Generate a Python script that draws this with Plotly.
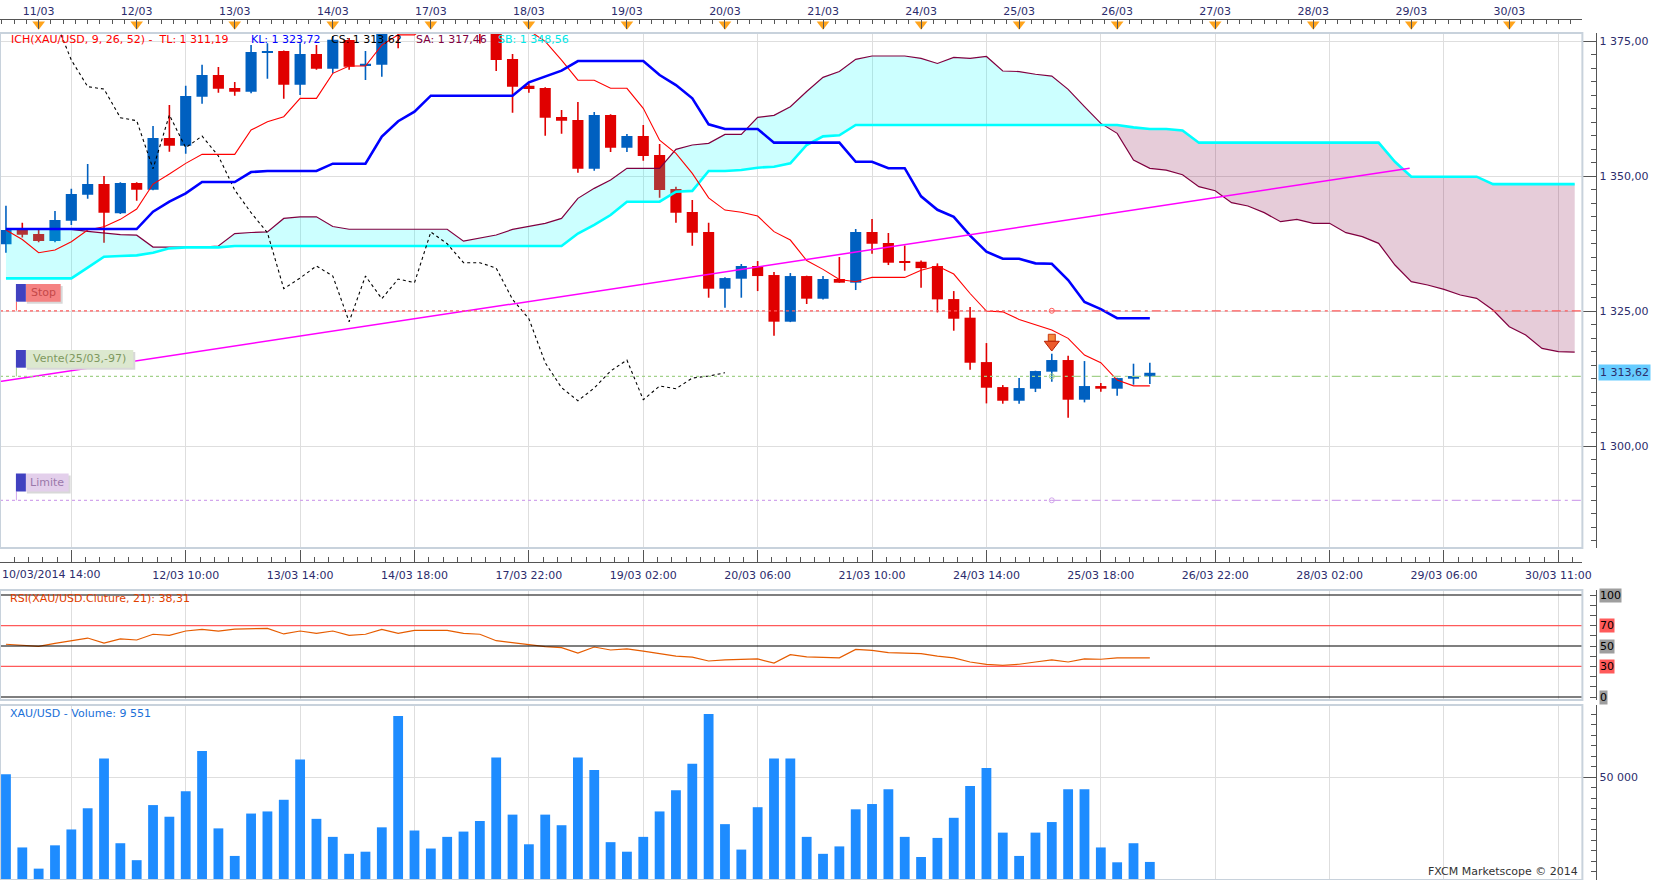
import plotly.graph_objects as go

W, H = 1663, 880

# ---- data (4h bars, XAU/USD) ----
opens = [1337.40, 1340.18, 1339.31, 1338.02, 1341.78, 1346.60, 1348.57, 1343.14, 1348.76, 1347.52,
         1357.09, 1355.67, 1364.74, 1368.76, 1366.35, 1365.67, 1372.89, 1373.20, 1366.97, 1372.65,
         1369.93, 1375.24, 1370.42, 1370.67, 1378.50, 1377.20, 1385.00, 1389.00, 1385.50, 1381.00,
         1379.00, 1371.72, 1366.78, 1366.35, 1360.98, 1360.42, 1351.41, 1361.35, 1355.30, 1357.46,
         1353.94, 1347.64, 1343.39, 1339.68, 1329.19, 1331.04, 1333.39, 1331.72, 1323.08, 1331.53,
         1327.33, 1330.98, 1330.30, 1339.68, 1337.64, 1334.18, 1334.18, 1333.38, 1327.27, 1323.82,
         1315.60, 1310.97, 1308.44, 1310.67, 1313.82, 1315.98, 1308.63, 1311.16, 1310.67, 1312.52,
         1312.95]
highs = [1344.56, 1341.41, 1340.05, 1343.57, 1347.71, 1352.27, 1350.05, 1348.90, 1348.90, 1359.31,
         1363.20, 1366.78, 1370.67, 1370.24, 1367.46, 1374.31, 1374.62, 1373.30, 1374.62, 1374.31,
         1376.00, 1375.60, 1373.20, 1377.50, 1381.00, 1386.00, 1391.70, 1391.00, 1387.00, 1382.50,
         1380.00, 1372.65, 1367.21, 1366.50, 1362.27, 1363.76, 1361.90, 1361.50, 1357.83, 1359.50,
         1355.98, 1348.08, 1345.61, 1341.41, 1331.30, 1333.76, 1334.31, 1332.27, 1332.09, 1331.60,
         1331.53, 1335.05, 1340.24, 1342.09, 1339.50, 1337.21, 1334.43, 1333.88, 1328.75, 1325.79,
         1319.12, 1311.34, 1312.64, 1314.00, 1317.15, 1316.78, 1315.79, 1311.72, 1312.70, 1315.30,
         1315.48]
lows = [1335.86, 1338.69, 1337.77, 1337.77, 1340.98, 1345.85, 1337.71, 1343.02, 1345.48, 1347.40,
        1354.56, 1354.19, 1363.45, 1365.48, 1364.93, 1365.36, 1368.08, 1364.37, 1365.05, 1369.74,
        1369.07, 1369.74, 1367.83, 1368.45, 1373.70, 1376.90, 1383.00, 1384.00, 1379.00, 1374.60,
        1369.50, 1361.78, 1365.48, 1357.52, 1357.89, 1350.67, 1351.04, 1354.50, 1354.50, 1352.89,
        1346.04, 1341.41, 1337.15, 1327.52, 1325.67, 1327.52, 1328.75, 1320.48, 1323.00, 1326.35,
        1327.20, 1330.30, 1328.94, 1335.67, 1333.57, 1332.52, 1329.37, 1324.80, 1321.41, 1314.18,
        1307.95, 1307.89, 1307.89, 1310.05, 1311.96, 1305.30, 1308.14, 1310.11, 1309.37, 1311.41,
        1311.53]
closes = [1340.05, 1339.19, 1338.02, 1341.90, 1346.72, 1348.57, 1343.26, 1348.76, 1347.52, 1357.09,
          1355.67, 1364.87, 1368.76, 1366.23, 1365.67, 1373.02, 1373.20, 1366.97, 1372.65, 1369.93,
          1375.30, 1370.30, 1370.85, 1376.80, 1377.20, 1384.00, 1389.00, 1385.50, 1381.00, 1379.00,
          1371.53, 1366.60, 1366.16, 1360.86, 1360.30, 1351.41, 1361.35, 1355.30, 1357.46, 1353.76,
          1347.46, 1343.26, 1339.56, 1329.19, 1331.16, 1333.39, 1331.53, 1323.08, 1331.53, 1327.34,
          1330.98, 1330.30, 1339.68, 1337.52, 1334.00, 1334.00, 1333.00, 1327.21, 1323.63, 1315.48,
          1310.85, 1308.44, 1310.79, 1313.94, 1315.98, 1308.63, 1311.16, 1310.67, 1312.64, 1313.01,
          1313.62]

volume = [51260, 16450, 6360, 17460, 25020, 35110, 58820, 18460, 10390, 36630,
          31080, 43190, 62360, 25530, 12410, 32590, 33600, 39150, 58320, 30070,
          21490, 13420, 14430, 26030, 79000, 24520, 15940, 21490, 24010, 29060,
          59330, 32080, 17960, 32080, 27040, 59330, 53280, 18970, 14430, 21490,
          33600, 43690, 56300, 80010, 27550, 15440, 35620, 58820, 58820, 21490,
          13420, 16950, 34610, 37130, 44190, 21490, 11900, 20990, 30570, 45710,
          54280, 23510, 12410, 23510, 28550, 44190, 44190, 16450, 9380, 18460,
          9551]

rsi = [51.7, 50.7, 49.7, 52.6, 55.5, 57.8, 52.9, 56.9, 55.9, 61.5,
       60.5, 64.7, 66.3, 64.5, 66.5, 67.2, 67.3, 61.8, 64.7, 62.4,
       64.7, 60.5, 61.5, 66.3, 62.4, 65.3, 65.5, 65.3, 62.4, 61.5,
       55.2, 52.9, 51.3, 49.3, 48.4, 43.1, 49.0, 46.1, 47.1, 45.0,
       42.5, 40.0, 39.0, 35.3, 36.3, 36.8, 37.3, 33.3, 41.5, 39.4,
       38.9, 38.4, 46.7, 45.7, 43.6, 43.0, 42.6, 40.0, 38.4, 34.3,
       32.0, 31.1, 32.1, 34.3, 36.3, 34.3, 37.3, 37.0, 38.4, 38.4,
       38.31]

tenkan = [1340.05, 1338.30, 1335.85, 1336.35, 1337.89, 1340.05, 1340.67, 1342.03, 1343.94, 1348.57,
          1350.42, 1352.40, 1354.07, 1354.07, 1354.07, 1358.57, 1360.11, 1361.04, 1364.44, 1364.44,
          1369.07, 1370.42, 1370.42, 1374.31, 1376.20, 1376.20, 1378.50, 1378.50, 1378.50, 1378.50,
          1378.50, 1378.50, 1377.00, 1375.00, 1371.50, 1367.80, 1367.80, 1366.30, 1366.30, 1362.60,
          1356.70, 1354.25, 1350.55, 1346.00, 1343.75, 1343.35, 1342.65, 1339.75, 1338.20, 1334.40,
          1332.77, 1330.90, 1330.48, 1331.28, 1331.28, 1331.28, 1332.60, 1333.38, 1331.90, 1328.30,
          1325.05, 1324.90, 1323.50, 1322.45, 1321.53, 1319.99, 1316.90, 1315.48, 1312.27, 1311.19,
          1311.19]

kijun = [1340.24, 1340.24, 1340.24, 1340.24, 1340.24, 1340.24, 1340.24, 1340.24, 1340.24, 1343.45,
         1345.30, 1346.84, 1348.94, 1348.94, 1348.94, 1350.79, 1350.98, 1350.98, 1350.98, 1350.98,
         1352.34, 1352.34, 1352.34, 1357.34, 1360.20, 1361.97, 1364.93, 1364.93, 1364.93, 1364.93,
         1364.93, 1364.93, 1367.40, 1368.45, 1369.56, 1371.35, 1371.35, 1371.35, 1371.35, 1371.35,
         1368.76, 1366.90, 1364.44, 1359.62, 1358.76, 1358.76, 1358.76, 1356.23, 1356.23, 1356.23,
         1356.23, 1356.23, 1352.70, 1352.70, 1351.50, 1351.50, 1346.30, 1343.80, 1342.50, 1339.00,
         1336.04, 1334.74, 1334.74, 1333.88, 1333.80, 1330.79, 1326.72, 1325.42, 1323.72, 1323.72,
         1323.72]

senkou_a = [1340.17, 1340.17, 1340.17, 1340.17, 1340.17, 1339.80, 1339.50, 1339.20, 1339.10, 1336.90,
            1336.90, 1336.90, 1336.90, 1337.10, 1339.40, 1339.60, 1339.70, 1342.20, 1342.50, 1342.50,
            1340.70, 1340.20, 1340.20, 1340.20, 1340.20, 1340.20, 1340.20, 1340.20, 1338.00, 1338.50,
            1339.13, 1340.17, 1340.67, 1341.29, 1342.21, 1345.92, 1347.77, 1349.31, 1351.47, 1351.47,
            1351.47, 1354.99, 1355.80, 1356.10, 1357.77, 1357.77, 1360.92, 1361.29, 1362.90, 1365.70,
            1368.33, 1369.40, 1371.66, 1372.28, 1372.28, 1372.28, 1371.85, 1370.90, 1372.03, 1371.85,
            1372.20, 1369.50, 1369.40, 1368.90, 1368.57, 1366.10, 1362.90, 1359.80, 1357.96, 1353.00,
            1351.47, 1351.16, 1350.30, 1348.08, 1347.34, 1345.12, 1344.50, 1343.27, 1341.60, 1342.03,
            1341.29, 1341.29, 1339.56, 1338.82, 1337.59, 1333.57, 1330.49, 1329.87, 1329.07, 1328.02,
            1327.40, 1325.24, 1322.15, 1320.61, 1318.14, 1317.52, 1317.46]

senkou_b = [1331.10, 1331.10, 1331.10, 1331.10, 1331.10, 1333.10, 1335.11, 1335.24, 1335.36, 1335.86,
            1336.66, 1336.84, 1336.84, 1336.84, 1337.09, 1337.09, 1337.09, 1337.09, 1337.09, 1337.09,
            1337.09, 1337.09, 1337.09, 1337.09, 1337.09, 1337.09, 1337.09, 1337.09, 1337.09, 1337.09,
            1337.09, 1337.09, 1337.09, 1337.09, 1337.09, 1339.40, 1341.00, 1342.83, 1345.30, 1345.30,
            1345.30, 1347.15, 1347.30, 1350.98, 1350.98, 1351.16, 1351.60, 1351.78, 1352.40, 1355.80,
            1357.40, 1357.60, 1359.50, 1359.50, 1359.50, 1359.50, 1359.50, 1359.50, 1359.50, 1359.50,
            1359.50, 1359.50, 1359.50, 1359.50, 1359.50, 1359.50, 1359.50, 1359.50, 1359.50, 1359.07,
            1358.76, 1358.76, 1358.50, 1356.23, 1356.23, 1356.23, 1356.23, 1356.23, 1356.23, 1356.23,
            1356.23, 1356.23, 1356.23, 1356.23, 1356.23, 1352.70, 1349.93, 1349.93, 1349.93, 1349.93,
            1349.93, 1348.56, 1348.56, 1348.56, 1348.56, 1348.56, 1348.56]

chikou_shift = 26

# trend line drawn by hand (bar position, price)
trend_x = [-0.37, 85.9]
trend_y = [1312.0, 1351.5]

# order levels
stop_level = 1325.1
entry_level = 1312.96
limit_level = 1290.0
order_bar = 64
signal_price = 1319.4
last_price = 1313.62

day_bars = [2, 8, 14, 20, 26, 32, 38, 44, 50, 56, 62, 68, 74, 80, 86, 92]
day_labels = ["11/03", "12/03", "13/03", "14/03", "17/03", "18/03", "19/03", "20/03",
              "21/03", "24/03", "25/03", "26/03", "27/03", "28/03", "29/03", "30/03"]
time_bars = [4, 11, 18, 25, 32, 39, 46, 53, 60, 67, 74, 81, 88, 95]
time_labels = ["", "12/03 10:00", "13/03 14:00", "14/03 18:00", "17/03 22:00", "19/03 02:00",
               "20/03 06:00", "21/03 10:00", "24/03 14:00", "25/03 18:00", "26/03 22:00",
               "28/03 02:00", "29/03 06:00", "30/03 11:00"]
first_time_label = "10/03/2014 14:00"

rsi_levels = [100, 70, 50, 30, 0]

# ---- styling ----
BLUE_C = "#0060c0"
RED_C = "#e00000"
NAVY = "#2c2c6c"
GRID = "#dedede"
AXC = "#555555"
FONT = "DejaVu Sans"

X0, X1 = -0.365, 96.47


def fx(px):
    return px / W


def fy(py):
    return 1 - py / H


bars = list(range(len(closes)))
cloud_x = list(range(len(senkou_a)))

fig = go.Figure()

# candle bodies
body_base = [min(o, c) for o, c in zip(opens, closes)]
body_h = [max(abs(c - o), 0.25) for o, c in zip(opens, closes)]
body_col = [BLUE_C if c >= o else RED_C for o, c in zip(opens, closes)]
fig.add_trace(go.Bar(x=bars, y=body_h, base=body_base, width=0.68,
                     marker=dict(color=body_col, line_width=0),
                     xaxis="x", yaxis="y", hoverinfo="skip"))


def wicks(idx):
    xs, ys = [], []
    for i in idx:
        xs += [i, i, None]
        ys += [lows[i], highs[i], None]
    return xs, ys


for col, idx in [(BLUE_C, [i for i in bars if closes[i] >= opens[i]]),
                 (RED_C, [i for i in bars if closes[i] < opens[i]])]:
    wx, wy = wicks(idx)
    fig.add_trace(go.Scatter(x=wx, y=wy, mode="lines", line=dict(color=col, width=1.6),
                             xaxis="x", yaxis="y", hoverinfo="skip"))

# cloud fill (drawn over candles, translucent)
cx, ca, cb = [], [], []
for i in range(len(cloud_x)):
    if i > 0:
        d0 = senkou_a[i - 1] - senkou_b[i - 1]
        d1 = senkou_a[i] - senkou_b[i]
        if d0 * d1 < 0:
            t = d0 / (d0 - d1)
            v = senkou_a[i - 1] + t * (senkou_a[i] - senkou_a[i - 1])
            cx.append(cloud_x[i - 1] + t)
            ca.append(v)
            cb.append(v)
    cx.append(cloud_x[i])
    ca.append(senkou_a[i])
    cb.append(senkou_b[i])
hi = [max(a, b) for a, b in zip(ca, cb)]

for low, col in [(cb, "rgba(0,255,255,0.2)"), (ca, "rgba(128,0,64,0.2)")]:
    fig.add_trace(go.Scatter(x=cx, y=low, mode="lines", line=dict(width=0),
                             xaxis="x", yaxis="y", hoverinfo="skip"))
    fig.add_trace(go.Scatter(x=cx, y=hi, mode="lines", line=dict(width=0),
                             fill="tonexty", fillcolor=col,
                             xaxis="x", yaxis="y", hoverinfo="skip"))

# ichimoku lines
fig.add_trace(go.Scatter(x=cloud_x, y=senkou_a, mode="lines", line=dict(color="#800040", width=1.2),
                         xaxis="x", yaxis="y"))
fig.add_trace(go.Scatter(x=cloud_x, y=senkou_b, mode="lines", line=dict(color="#00ffff", width=2.6),
                         xaxis="x", yaxis="y"))
fig.add_trace(go.Scatter(x=[b - chikou_shift for b in bars[chikou_shift:]], y=closes[chikou_shift:],
                         mode="lines", line=dict(color="black", width=1.1, dash="3px,3px"),
                         xaxis="x", yaxis="y"))
fig.add_trace(go.Scatter(x=bars, y=tenkan, mode="lines", line=dict(color="#ff0000", width=1.1),
                         xaxis="x", yaxis="y"))
fig.add_trace(go.Scatter(x=bars, y=kijun, mode="lines", line=dict(color="#0000ff", width=2.6),
                         xaxis="x", yaxis="y"))
fig.add_trace(go.Scatter(x=trend_x, y=trend_y, mode="lines", line=dict(color="#ff00ff", width=1.5),
                         xaxis="x", yaxis="y"))

# order level lines
levels = [(stop_level, "#ff5a5a"), (entry_level, "#a3d18a"), (limit_level, "#d2a6ec")]
shapes = []
for lvl, col in levels:
    shapes.append(dict(type="line", xref="x", yref="y", x0=X0, x1=order_bar, y0=lvl, y1=lvl,
                       line=dict(color=col, width=1.2, dash="3px,3px")))
    shapes.append(dict(type="line", xref="x", yref="y", x0=order_bar, x1=X1, y0=lvl, y1=lvl,
                       line=dict(color=col, width=1.2, dash="9px,4px,3px,4px")))
    fig.add_trace(go.Scatter(x=[order_bar], y=[lvl], mode="markers",
                             marker=dict(symbol="circle-open", size=5, color=col, line=dict(width=1)),
                             xaxis="x", yaxis="y"))

# sell signal arrow: shaft + head
fig.add_trace(go.Scatter(x=[order_bar], y=[signal_price + 0.7], mode="markers",
                         marker=dict(symbol="square", size=7, color="#f5873c",
                                     line=dict(color="#c83a10", width=1)),
                         xaxis="x", yaxis="y"))
fig.add_trace(go.Scatter(x=[order_bar], y=[signal_price - 0.55], mode="markers",
                         marker=dict(symbol="triangle-down", size=13, color="#ec5a2c",
                                     line=dict(color="#b81e00", width=1)),
                         xaxis="x", yaxis="y"))

# RSI
fig.add_trace(go.Scatter(x=bars, y=rsi, mode="lines", line=dict(color="#e65c00", width=1.2),
                         xaxis="x2", yaxis="y2"))
for lvl in rsi_levels:
    shapes.append(dict(type="line", xref="x2 domain", yref="y2", x0=0, x1=1, y0=lvl, y1=lvl,
                       line=dict(color="#ff5a5a" if lvl in (70, 30) else "black", width=1.2)))

# Volume
fig.add_trace(go.Bar(x=bars, y=volume, width=0.6, marker=dict(color="#1e8cff", line_width=0),
                     xaxis="x3", yaxis="y3"))

# top day markers
fig.add_trace(go.Scatter(x=day_bars, y=[0.68] * len(day_bars), mode="markers",
                         marker=dict(symbol="triangle-down", size=11, color="#ffa41c"),
                         xaxis="x4", yaxis="y4", cliponaxis=False))

# panel frames
for top, bot in [(33, 548), (590, 700), (705, 880)]:
    shapes.append(dict(type="rect", xref="paper", yref="paper", x0=0, x1=fx(1591),
                       y0=fy(bot), y1=fy(top), line=dict(color="#c8d2dc", width=2), layer="above"))

# order label boxes
annotations = []
boxes = [("Stop", 284, 301.7, 61, "#f58282", "#c44848", "#ff5a5a", 310.7),
         ("Vente(25/03,-97)", 350, 367.7, 134, "#dce8cf", "#7e985e", "#a3d18a", 376.3),
         ("Limite", 473.5, 491.5, 69, "#e3cfeb", "#9a78aa", "#d2a6ec", 500.3)]
for txt, t, b, right, bg, fg, lc, ly in boxes:
    shapes.append(dict(type="line", xref="paper", yref="paper", x0=fx(16.5), x1=fx(16.5),
                       y0=fy(b), y1=fy(ly), line=dict(color=lc, width=1)))
    shapes.append(dict(type="rect", xref="paper", yref="paper", x0=fx(27), x1=fx(right + 2),
                       y0=fy(b + 2), y1=fy(t + 2), line=dict(width=0), fillcolor="#d8d8d8"))
    shapes.append(dict(type="rect", xref="paper", yref="paper", x0=fx(26), x1=fx(right),
                       y0=fy(b), y1=fy(t), line=dict(width=0), fillcolor=bg))
    shapes.append(dict(type="rect", xref="paper", yref="paper", x0=fx(16), x1=fx(26),
                       y0=fy(b), y1=fy(t), line=dict(width=0), fillcolor="#4141c0"))
    annotations.append(dict(xref="paper", yref="paper", x=fx((26 + right) / 2), y=fy((t + b) / 2),
                            xanchor="center", yanchor="middle",
                            text=txt, showarrow=False, font=dict(size=11, color=fg)))

# indicator legend (top-left)
legend_parts = [("ICH(XAU/USD, 9, 26, 52) -  TL: 1 311,19", "#ff0000", 8.6),
                ("KL: 1 323,72", "#0000ff", 250),
                ("CS: 1 313,62", "#000000", 331),
                ("SA: 1 317,46", "#800040", 416),
                ("SB: 1 348,56", "#00e8e8", 499)]
for txt, col, x in legend_parts:
    annotations.append(dict(xref="paper", yref="paper", x=fx(x), y=fy(40), xanchor="left",
                            yanchor="middle", text=txt, showarrow=False,
                            font=dict(size=11, color=col)))

annotations.append(dict(xref="paper", yref="paper", x=fx(8), y=fy(598), xanchor="left",
                        yanchor="middle", text="RSI(XAU/USD.Cluture, 21): 38,31", showarrow=False,
                        font=dict(size=11, color="#e04000")))
annotations.append(dict(xref="paper", yref="paper", x=fx(8), y=fy(713), xanchor="left",
                        yanchor="middle", text="XAU/USD - Volume: 9 551", showarrow=False,
                        font=dict(size=11, color="#1a70d8")))
annotations.append(dict(xref="paper", yref="paper", x=fx(1589), y=fy(871), xanchor="right",
                        yanchor="middle", text="FXCM Marketscope © 2014", showarrow=False,
                        font=dict(size=11, color="#333333")))
annotations.append(dict(xref="paper", yref="paper", x=0, y=fy(574), xanchor="left",
                        yanchor="middle", text=first_time_label, showarrow=False,
                        font=dict(size=11, color=NAVY)))

# last price label and RSI level labels
annotations.append(dict(xref="paper", yref="y", x=fx(1607), y=last_price, xanchor="left",
                        yanchor="middle", text="1 313,62", showarrow=False, bgcolor="#66ccff",
                        borderpad=1, font=dict(size=11, color=NAVY)))
for lvl in rsi_levels:
    annotations.append(dict(xref="paper", yref="y2", x=fx(1608), y=lvl, xanchor="left",
                            yanchor="middle", text=str(lvl), showarrow=False,
                            bgcolor="#ff5a5a" if lvl in (70, 30) else "#9e9e9e",
                            borderpad=0, font=dict(size=11, color="black")))

x_common = dict(range=[X0, X1], domain=[0, fx(1591)], zeroline=False, fixedrange=True)
ypos = fx(1605)

fig.update_layout(
    width=W, height=H, margin=dict(l=0, r=0, t=0, b=0),
    paper_bgcolor="white", plot_bgcolor="white",
    separators=", ", showlegend=False, barmode="overlay",
    font=dict(family=FONT, size=11, color=NAVY),
    xaxis=dict(**x_common, anchor="free", position=fy(561.7), tickmode="array",
               tickvals=time_bars, ticktext=time_labels, showgrid=True, gridcolor=GRID,
               ticks="inside", ticklen=12, tickcolor=AXC, showline=True, linecolor=AXC,
               ticklabelstandoff=3,
               minor=dict(tickmode="linear", tick0=4, dtick=0.875, ticks="inside", ticklen=5,
                          tickcolor=AXC, showgrid=False)),
    xaxis2=dict(**x_common, anchor="y2", matches="x", tickmode="array", tickvals=time_bars,
                showticklabels=False, showgrid=True, gridcolor=GRID, ticks=""),
    xaxis3=dict(**x_common, anchor="y3", matches="x", tickmode="array", tickvals=time_bars,
                showticklabels=False, showgrid=True, gridcolor=GRID, ticks=""),
    xaxis4=dict(**x_common, anchor="y4", matches="x", side="top", tickmode="array",
                tickvals=day_bars, ticktext=day_labels, showgrid=False, ticks="inside",
                ticklen=9, tickcolor=AXC, showline=True, linecolor=AXC,
                minor=dict(tickmode="linear", tick0=2, dtick=0.75, ticks="inside", ticklen=4,
                           tickcolor=AXC, showgrid=False)),
    yaxis=dict(domain=[fy(548), fy(33)], range=[1281.17, 1376.54], anchor="free", position=ypos,
               side="right", tickmode="linear", tick0=1300, dtick=25, tickformat=",.2f",
               ticks="inside", ticklen=14, tickcolor=AXC, showline=True, linecolor=AXC,
               showgrid=True, gridcolor=GRID, zeroline=False, fixedrange=True,
               minor=dict(tickmode="linear", tick0=1300, dtick=2.5, ticks="inside", ticklen=5,
                          tickcolor=AXC, showgrid=False)),
    yaxis2=dict(domain=[fy(700), fy(590)], range=[-2.94, 104.9], anchor="free", position=ypos,
                side="right", tickmode="linear", tick0=0, dtick=10, ticks="inside", ticklen=6,
                tickcolor=AXC, showticklabels=False, showline=True, linecolor=AXC,
                showgrid=False, zeroline=False, fixedrange=True),
    yaxis3=dict(domain=[0, fy(705)], range=[952, 84286], anchor="free", position=ypos,
                side="right", tickmode="linear", tick0=0, dtick=50000, tickformat=",d",
                ticks="inside", ticklen=14, tickcolor=AXC, showline=True, linecolor=AXC,
                showgrid=True, gridcolor=GRID, zeroline=False, fixedrange=True,
                minor=dict(tickmode="linear", tick0=0, dtick=5000, ticks="inside", ticklen=5,
                           tickcolor=AXC, showgrid=False)),
    yaxis4=dict(domain=[fy(33), fy(20)], range=[0, 1], visible=False, fixedrange=True),
    shapes=shapes,
    annotations=annotations,
)

# the page body has a default margin; remove it so the figure fills the window exactly
fig.write_html("out.html",
               config={"displayModeBar": False},
               post_script="document.body.style.margin='0px';"
                           "document.body.style.padding='0px';"
                           "document.documentElement.style.overflow='hidden';")
